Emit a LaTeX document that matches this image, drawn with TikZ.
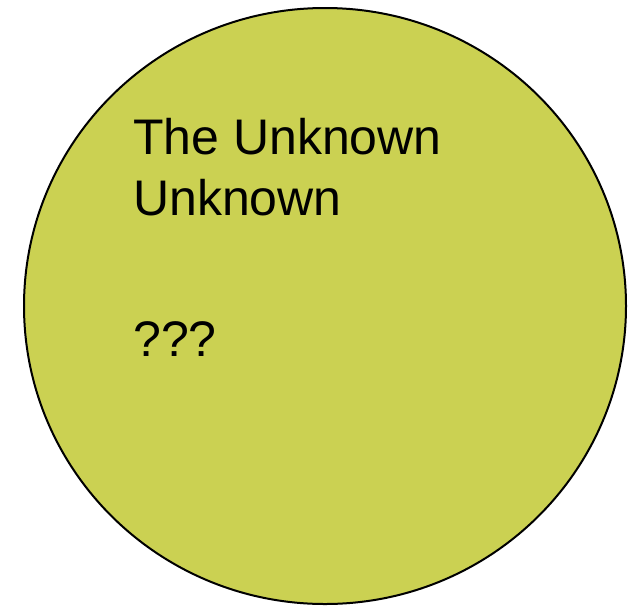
\documentclass[tikz,border=0pt]{standalone}
\usepackage{fontspec}
\setmainfont{Liberation Sans}
\usetikzlibrary{shapes.geometric}
\definecolor{olivefill}{RGB}{203,209,82}
\begin{document}
\begin{tikzpicture}[x=1pt,y=-1pt,
  blob/.style={draw=black,line width=2pt,fill=olivefill},
  lbl/.style={anchor=base west,inner sep=0pt,font=\fontsize{50}{61}\selectfont}]
\useasboundingbox (0,0) rectangle (634,606);
\node[blob,ellipse,minimum width=602pt,minimum height=596pt,inner sep=0pt] (circ) at (325,306) {};
\node[lbl] (t1) at (133,154) {The Unknown};
\node[lbl] (t2) at (133,215) {Unknown};
\node[lbl] (t3) at (133,356) {???};
\end{tikzpicture}
\end{document}
